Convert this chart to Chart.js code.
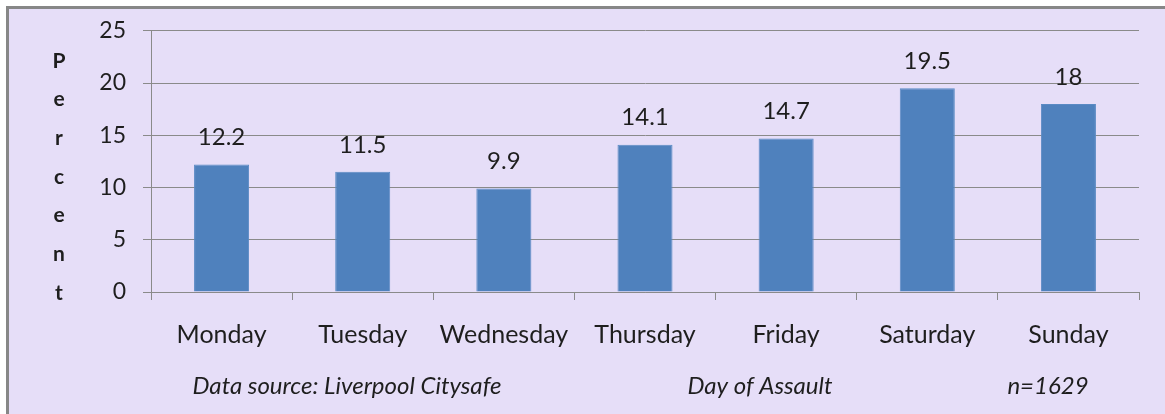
<!DOCTYPE html>
<html>
<head>
<meta charset="utf-8">
<script src="https://cdn.jsdelivr.net/npm/chart.js@4"></script>
<style>
  html, body { margin: 0; padding: 0; background: #ffffff; overflow: hidden; }
  #wrap { position: relative; width: 1165px; height: 414px; overflow: hidden; }
  #panel {
    position: absolute; left: 6px; top: 6px; right: 0; bottom: 0;
    background: #e6def8; border-left: 3px solid #878787; border-top: 3px solid #878787;
  }
  #chart { position: absolute; left: 0; top: 0; }
</style>
</head>
<body>
<div id="wrap">
  <div id="panel"></div>
  <canvas id="chart" width="1165" height="414"></canvas>
</div>
<script>
// days of the week (categories)
let days = ["Monday", "Tuesday", "Wednesday", "Thursday", "Friday", "Saturday", "Sunday"];

// percent of assaults on each day
let percents = [12.2, 11.5, 9.9, 14.1, 14.7, 19.5, 18];

// y axis title, one letter per line
let yTitle = ["P", "e", "r", "c", "e", "n", "t"];

// notes under the chart
let footNotes = ["Data source: Liverpool Citysafe", "Day of Assault", "n=1629"];

let font = "Lato, 'Liberation Sans', sans-serif";

// draws the numbers above bars, the y title letters and the footer
let extras = {
  id: "extras",
  afterDatasetsDraw(chart) {
    let ctx = chart.ctx;
    let meta = chart.getDatasetMeta(0);
    ctx.save();
    ctx.fillStyle = "#1e1e1e";
    ctx.textAlign = "center";
    ctx.textBaseline = "middle";
    ctx.font = "24px " + font;
    meta.data.forEach(function (bar, i) {
      ctx.fillText(String(percents[i]), bar.x, bar.y - 27);
    });

    // vertical letters
    ctx.font = "bold 21px " + font;
    let top = chart.scales.y.getPixelForValue(25) + 30;
    yTitle.forEach(function (ch, i) {
      ctx.fillText(ch, 59, top + i * 38.7);
    });

    // footer notes
    ctx.font = "italic 24px " + font;
    let xs = [347, 760, 1048];
    footNotes.forEach(function (t, i) {
      ctx.fillText(t, xs[i], 386);
    });
    ctx.restore();
  }
};

let ctx = document.getElementById("chart").getContext("2d");
let chart = new Chart(ctx, {
  type: "bar",
  data: {
    labels: days,
    datasets: [{
      data: percents,
      backgroundColor: "#4f81bd",
      borderColor: "#5a8ac4",
      borderWidth: 1,
      barPercentage: 0.39,
      categoryPercentage: 1
    }]
  },
  options: {
    responsive: false,
    animation: false,
    layout: { padding: { left: 0, right: 26, top: 28, bottom: 0 } },
    plugins: {
      legend: { display: false },
      tooltip: { enabled: false }
    },
    scales: {
      x: {
        afterFit(s) { s.height = 122; },
        grid: {
          drawOnChartArea: false,
          drawTicks: true,
          tickLength: 8,
          color: "#8a8a8a",
          offset: true
        },
        border: { color: "#8a8a8a", width: 1 },
        ticks: {
          color: "#1e1e1e",
          padding: 20,
          font: { family: font, size: 25 }
        }
      },
      y: {
        min: 0,
        max: 25,
        afterFit(s) { s.width = 151; },
        grid: {
          color: "#8a8a8a",
          tickLength: 8
        },
        border: { color: "#8a8a8a", width: 1 },
        ticks: {
          stepSize: 5,
          color: "#1e1e1e",
          padding: 17,
          font: { family: font, size: 23 }
        }
      }
    }
  },
  plugins: [extras]
});
</script>
</body>
</html>
